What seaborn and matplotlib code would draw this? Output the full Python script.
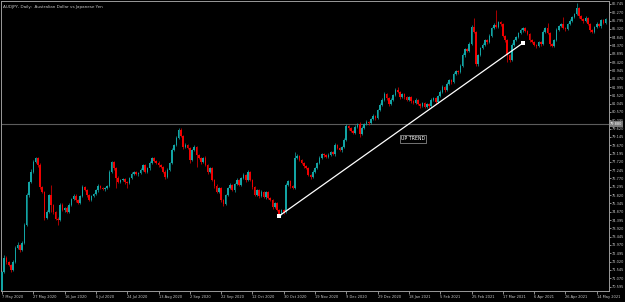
import numpy as np
import seaborn as sns
import matplotlib
matplotlib.use("Agg")
import matplotlib.pyplot as plt

# AUDJPY daily closes
first_open = 70.40
closes = [
    71.43, 72.23, 72.00, 71.83, 71.54, 72.00, 72.80, 72.97, 72.68, 73.08,
    74.11, 75.83, 76.57, 77.14, 77.71, 77.94, 77.54, 76.28, 76.00, 74.51,
    74.86, 75.83, 75.26, 74.86, 74.46, 74.40, 75.26, 74.97, 75.08, 74.86,
    75.26, 75.60, 75.77, 75.54, 75.37, 75.77, 76.28, 76.11, 75.83, 75.54,
    75.77, 75.88, 76.11, 76.34, 76.23, 76.17, 76.23, 76.34, 77.14, 77.71,
    77.37, 76.80, 76.57, 76.68, 76.74, 76.57, 76.51, 76.80, 77.03, 77.14,
    77.03, 77.08, 77.26, 77.54, 77.14, 77.37, 77.66, 77.94, 77.77, 77.66,
    77.54, 77.43, 77.14, 76.86, 77.26, 77.66, 78.40, 78.68, 79.08, 79.54,
    79.20, 78.57, 78.68, 78.51, 77.83, 78.40, 78.57, 78.11, 77.94, 77.71,
    77.94, 77.54, 77.14, 77.37, 76.68, 76.34, 76.00, 76.23, 75.54, 75.31,
    75.83, 76.23, 76.40, 76.11, 76.46, 76.68, 76.40, 76.80, 76.97, 76.68,
    77.14, 76.68, 76.28, 75.83, 76.11, 75.77, 76.00, 75.71, 76.00, 75.66,
    75.54, 75.14, 75.37, 74.97, 74.74, 74.97, 74.86, 76.40, 76.63, 76.34,
    76.23, 77.94, 78.06, 77.83, 77.66, 77.48, 77.37, 76.97, 76.86, 77.14,
    77.37, 77.66, 77.94, 78.17, 78.11, 78.00, 78.11, 78.28, 78.17, 78.68,
    78.51, 78.40, 78.57, 78.97, 79.77, 79.66, 79.48, 79.37, 79.71, 79.88,
    79.31, 79.66, 79.88, 80.00, 79.94, 80.17, 80.34, 80.23, 80.68, 80.97,
    81.26, 81.60, 81.37, 81.03, 81.26, 81.54, 81.83, 81.71, 81.43, 81.60,
    81.43, 81.26, 81.43, 81.20, 81.08, 81.26, 81.03, 80.91, 81.08, 80.86,
    81.03, 80.91, 81.26, 81.37, 81.14, 81.48, 81.71, 82.00, 81.83, 82.17,
    82.40, 82.28, 82.74, 82.91, 82.86, 83.20, 83.83, 84.17, 84.06, 84.46,
    85.43, 85.14, 83.31, 83.83, 84.23, 84.40, 84.68, 84.57, 84.91, 85.37,
    85.54, 85.43, 85.71, 85.60, 84.91, 84.68, 83.83, 83.54, 84.40, 84.68,
    84.86, 85.08, 85.26, 85.37, 85.20, 85.03, 84.68, 84.57, 84.40, 84.34,
    84.57, 84.46, 85.14, 85.37, 85.08, 84.46, 84.34, 84.68, 85.26, 85.48,
    85.60, 85.37, 85.31, 85.60, 85.77, 86.00, 86.17, 86.51, 86.06, 85.88,
    85.77, 85.94, 85.60, 85.26, 85.14, 85.43, 85.60, 85.48, 85.83, 85.66,
    85.88,
]

# wick lengths above / below each candle body
up_wick = [
    .05, .15, .10, .08, .05, .12, .10, .15, .08, .10,
    .12, .10, .08, .15, .10, .06, .05, .10, .08, .06,
    .10, .08, .57, .06, .05, .10, .08, .12, .06, .10,
    .08, .06, .10, .12, .05, .08, .10, .06, .05, .08,
    .06, .08, .05, .10, .08, .06, .05, .08, .10, .08,
    .06, .05, .10, .08, .06, .05, .08, .06, .10, .05,
    .08, .06, .10, .08, .05, .06, .10, .08, .05, .06,
    .08, .05, .06, .10, .08, .06, .10, .08, .12, .11,
    .11, .08, .10, .06, .05, .08, .10, .06, .08, .05,
    .08, .10, .06, .08, .05, .06, .10, .08, .06, .05,
    .08, .06, .10, .08, .06, .10, .05, .08, .10, .06,
    .10, .08, .06, .05, .08, .06, .10, .05, .08, .06,
    .05, .08, .06, .05, .08, .06, .05, .10, .08, .06,
    .05, .34, .10, .06, .08, .05, .06, .08, .05, .10,
    .08, .06, .10, .08, .05, .06, .10, .08, .05, .12,
    .06, .08, .05, .10, .12, .08, .06, .05, .10, .08,
    .10, .08, .06, .10, .05, .08, .10, .06, .08, .10,
    .08, .10, .06, .05, .08, .06, .10, .17, .06, .08,
    .06, .05, .08, .06, .05, .08, .06, .05, .08, .06,
    .08, .06, .10, .08, .05, .08, .10, .12, .06, .10,
    .08, .06, .10, .08, .05, .10, .12, .08, .06, .10,
    .12, .51, .06, .08, .05, .10, .08, .06, .10, .08,
    .10, .86, .08, .06, .05, .06, .05, .06, .10, .08,
    .06, .08, .10, .06, .08, .05, .06, .05, .06, .05,
    .08, .06, .10, .08, .29, .06, .05, .08, .10, .08,
    .06, .40, .05, .08, .10, .06, .08, .29, .06, .05,
    .06, .10, .08, .05, .06, .08, .10, .06, .08, .06,
    .08,
]
dn_wick = [
    .10, .08, .12, .06, .10, .08, .05, .06, .10, .08,
    .06, .08, .10, .05, .06, .08, .10, .12, .06, .10,
    .08, .06, .40, .10, .06, .29, .08, .06, .10, .08,
    .06, .08, .05, .10, .08, .06, .05, .08, .10, .06,
    .08, .05, .06, .10, .08, .06, .10, .05, .06, .08,
    .10, .57, .08, .06, .05, .10, .29, .06, .08, .05,
    .06, .10, .08, .05, .06, .08, .10, .06, .08, .06,
    .10, .08, .06, .12, .08, .05, .06, .08, .06, .05,
    .08, .10, .06, .08, .17, .06, .05, .69, .08, .10,
    .06, .08, .10, .05, .08, .10, .06, .08, .10, .12,
    .06, .05, .08, .06, .10, .08, .06, .05, .08, .10,
    .06, .08, .10, .06, .08, .10, .06, .08, .10, .06,
    .08, .10, .06, .08, .17, .06, .10, .08, .06, .10,
    .08, .06, .05, .08, .06, .10, .08, .06, .10, .05,
    .06, .08, .05, .06, .10, .08, .05, .06, .08, .10,
    .08, .06, .10, .05, .08, .10, .06, .08, .05, .06,
    .17, .06, .08, .05, .10, .06, .08, .10, .05, .06,
    .06, .08, .10, .12, .06, .08, .05, .06, .10, .08,
    .10, .06, .08, .10, .06, .05, .08, .10, .06, .08,
    .06, .10, .08, .05, .10, .06, .08, .05, .10, .06,
    .06, .10, .08, .05, .10, .06, .08, .10, .06, .08,
    .08, .06, .10, .12, .06, .08, .05, .10, .06, .08,
    .06, .08, .05, .10, .08, .12, .40, .10, .08, .06,
    .08, .05, .06, .10, .06, .08, .10, .06, .08, .10,
    .06, .10, .08, .05, .06, .10, .08, .06, .05, .08,
    .08, .05, .10, .06, .08, .05, .06, .08, .10, .06,
    .10, .06, .08, .10, .06, .05, .08, .06, .10, .08,
    .06,
]

date_labels = [
    "7 May 2020", "27 May 2020", "16 Jun 2020", "6 Jul 2020", "24 Jul 2020",
    "13 Aug 2020", "2 Sep 2020", "22 Sep 2020", "12 Oct 2020", "30 Oct 2020",
    "19 Nov 2020", "9 Dec 2020", "29 Dec 2020", "18 Jan 2021", "5 Feb 2021",
    "25 Feb 2021", "17 Mar 2021", "6 Apr 2021", "26 Apr 2021", "14 May 2021",
]
label_every = 14

trend_bars = [124, 233]
trend_prices = [74.63, 84.51]
trend_text = "UP TREND"
trend_text_pos = (183.8, 79.03)

hline_price = 79.88
title = "AUDJPY, Daily:  Australian Dollar vs Japanese Yen"

ytick_top = 86.745
ytick_step = 0.475

UP = "#12a4a4"
DOWN = "#f00000"
GRID_TXT = "#c8c8c8"

sns.set_theme(style="dark", rc={
    "axes.facecolor": "black",
    "figure.facecolor": "black",
    "axes.edgecolor": "#9a9a9a",
    "xtick.color": GRID_TXT,
    "ytick.color": GRID_TXT,
})
plt.rcParams["font.family"] = ["DejaVu Sans"]

closes = np.array(closes)
opens = np.concatenate([[first_open], closes[:-1]])
highs = np.maximum(opens, closes) + np.array(up_wick)
lows = np.minimum(opens, closes) - np.array(dn_wick)
idx = np.arange(len(closes))
colors = [UP if c >= o else DOWN for o, c in zip(opens, closes)]
bottoms = np.minimum(opens, closes)
heights = np.maximum(np.abs(closes - opens), 0.03)

fig = plt.figure(figsize=(6.25, 3.02), dpi=100)
ax = fig.add_axes([1 / 625, 11 / 302, 608 / 625, 290 / 302])

ax.axhline(hline_price, color="#5c5c5c", lw=0.8, zorder=1)
ax.vlines(idx, lows, highs, colors=colors, lw=0.5, zorder=2)
ax.bar(idx, heights, bottom=bottoms, width=0.72, color=colors, linewidth=0, zorder=3)

sns.lineplot(x=trend_bars, y=trend_prices, ax=ax, color="white", lw=0.9,
             marker="s", markersize=2.2, markeredgewidth=0, legend=False, zorder=4)
ax.text(trend_text_pos[0], trend_text_pos[1], trend_text, fontsize=3.4, color="white",
        ha="center", va="center", zorder=5,
        bbox=dict(facecolor="black", edgecolor="#a0a0a0", linewidth=0.5, pad=0.8))

ax.set_xlim(-0.45, 271.5)
ax.set_ylim(70.34, 86.91)

yticks = [ytick_top - k * ytick_step for k in range(35)]
ax.yaxis.tick_right()
ax.set_yticks(yticks)
ax.set_yticklabels([f"{v:.3f}" for v in yticks])
ax.tick_params(axis="y", labelsize=2.5, length=1.2, width=0.5, pad=0.6, right=True, left=False)

ax.set_xticks(list(range(0, len(closes), label_every)))
ax.set_xticklabels(date_labels, ha="left")
ax.tick_params(axis="x", labelsize=2.6, length=2, width=0.5, pad=1, bottom=True)
ax.grid(False)

for side in ["left", "right", "top", "bottom"]:
    ax.spines[side].set_color("#9a9a9a")
    ax.spines[side].set_linewidth(0.7)

ax.text(1.002, hline_price, f"{hline_price:.3f}", transform=ax.get_yaxis_transform(),
        ha="left", va="center", fontsize=2.5, color="white", zorder=6,
        bbox=dict(facecolor="#7a7a7a", edgecolor="none", pad=0.5))
ax.text(0.004, 0.985, title, transform=ax.transAxes, fontsize=3.0, color=GRID_TXT,
        ha="left", va="top")

fig.savefig("out.png", dpi=100, facecolor="black")
